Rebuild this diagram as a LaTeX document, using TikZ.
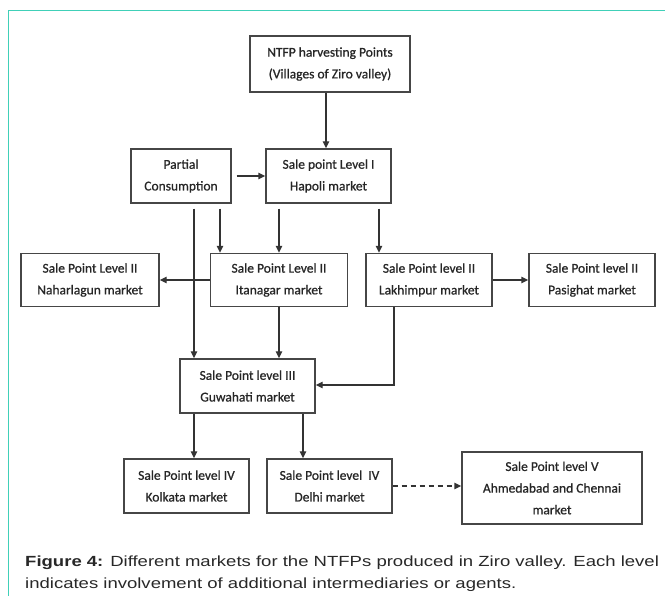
\documentclass[tikz,border=0pt]{standalone}
\usepackage{fontspec}
\setmainfont{Liberation Sans}
\newfontfamily\boxfont[FakeBold=0.8]{Carlito}
\newfontfamily\capfont[FakeStretch=1.26]{Liberation Sans}
\usetikzlibrary{arrows.meta}
\definecolor{frameteal}{RGB}{64,208,184}
\definecolor{boxline}{RGB}{70,70,70}
\definecolor{captext}{RGB}{40,40,40}
\begin{document}
\begin{tikzpicture}[x=1pt,y=-1pt,
  mbox/.style={draw=boxline,line width=1.4pt,rectangle,align=center,inner sep=0pt,
    font=\boxfont\fontsize{13.5}{21.7}\selectfont,text=black!85},
  arr/.style={draw=black!80,line width=1.4pt,-{Triangle[length=7pt,width=6.5pt]}},
  gap/.style={shorten <=5pt},
  captxt/.style={anchor=base west,inner sep=0pt,text=captext,font=\capfont\fontsize{14.7}{22}\selectfont}]
\useasboundingbox (0,0) rectangle (665,596);
% frame lines
\draw[frameteal,line width=1.3pt] (8.5,596) -- (8.5,10.5) -- (665,10.5);

% boxes
\node[mbox,minimum width=160pt,minimum height=56pt] (ntfp) at (330,64) {NTFP harvesting Points\\(Villages of Ziro valley)};
\node[mbox,minimum width=100pt,minimum height=54pt] (partial) at (181,176) {Partial\\Consumption};
\node[mbox,minimum width=125pt,minimum height=54pt] (hapoli) at (328.5,176) {Sale point Level I\\Hapoli market};
\node[mbox,minimum width=138pt,minimum height=53pt] (nahar) at (90,280) {Sale Point Level II\\Naharlagun market};
\node[mbox,minimum width=137pt,minimum height=53pt] (itan) at (279,280) {Sale Point Level II\\Itanagar market};
\node[mbox,minimum width=126pt,minimum height=53pt] (lakh) at (429,280) {Sale Point level II\\Lakhimpur market};
\node[mbox,minimum width=126pt,minimum height=53pt] (pasi) at (592,280) {Sale Point level II\\Pasighat market};
\node[mbox,minimum width=135pt,minimum height=54pt] (guw) at (247.5,386) {Sale Point level III\\Guwahati market};
\node[mbox,minimum width=125pt,minimum height=54pt] (kolk) at (186.5,486) {Sale Point level IV\\Kolkata market};
\node[mbox,minimum width=125pt,minimum height=54pt] (delhi) at (329.5,486) {Sale Point level\ \ IV\\Delhi market};
\node[mbox,minimum width=180pt,minimum height=72pt] (ahme) at (552,488) {Sale Point level V\\Ahmedabad and Chennai\\market};

% connectors
\draw[arr] ([xshift=-4pt]ntfp.south) -- ([xshift=-2.5pt]hapoli.north);
\draw[arr,gap] (partial.east) -- (hapoli.west);
\draw[arr,gap] ([xshift=13pt]partial.south) -- ([xshift=13pt]partial.south |- guw.north);
\draw[arr,gap] ([xshift=39pt]partial.south) -- ([xshift=39pt]partial.south |- itan.north);
\draw[arr,gap] ([xshift=-49.5pt]hapoli.south) -- ([xshift=-49.5pt]hapoli.south |- itan.north);
\draw[arr,gap] ([xshift=50.5pt]hapoli.south) -- ([xshift=50.5pt]hapoli.south |- lakh.north);
\draw[arr] (itan.west) -- (nahar.east);
\draw[arr] (lakh.east) -- (pasi.east -| pasi.west);
\draw[arr] (itan.south) -- (itan.south |- guw.north);
\coordinate (lk) at ([xshift=-35pt]lakh.south);
\draw[arr] (lk) |- ([yshift=1pt]guw.east);
\draw[arr] ([xshift=-53.5pt]guw.south) -- ([xshift=-53.5pt]guw.south |- kolk.north);
\draw[arr] ([xshift=55.5pt]guw.south) -- ([xshift=55.5pt]guw.south |- delhi.north);
\draw[arr,dash pattern=on 5pt off 4pt] (delhi.east) -- (delhi.east -| ahme.west);

% caption
\node[captxt] (cap1) at (25,566) {\textbf{Figure 4:} Different markets for the NTFPs produced in Ziro valley. Each level};
\node[captxt] (cap2) at (25,588) {indicates involvement of additional intermediaries or agents.};
\end{tikzpicture}
\end{document}
